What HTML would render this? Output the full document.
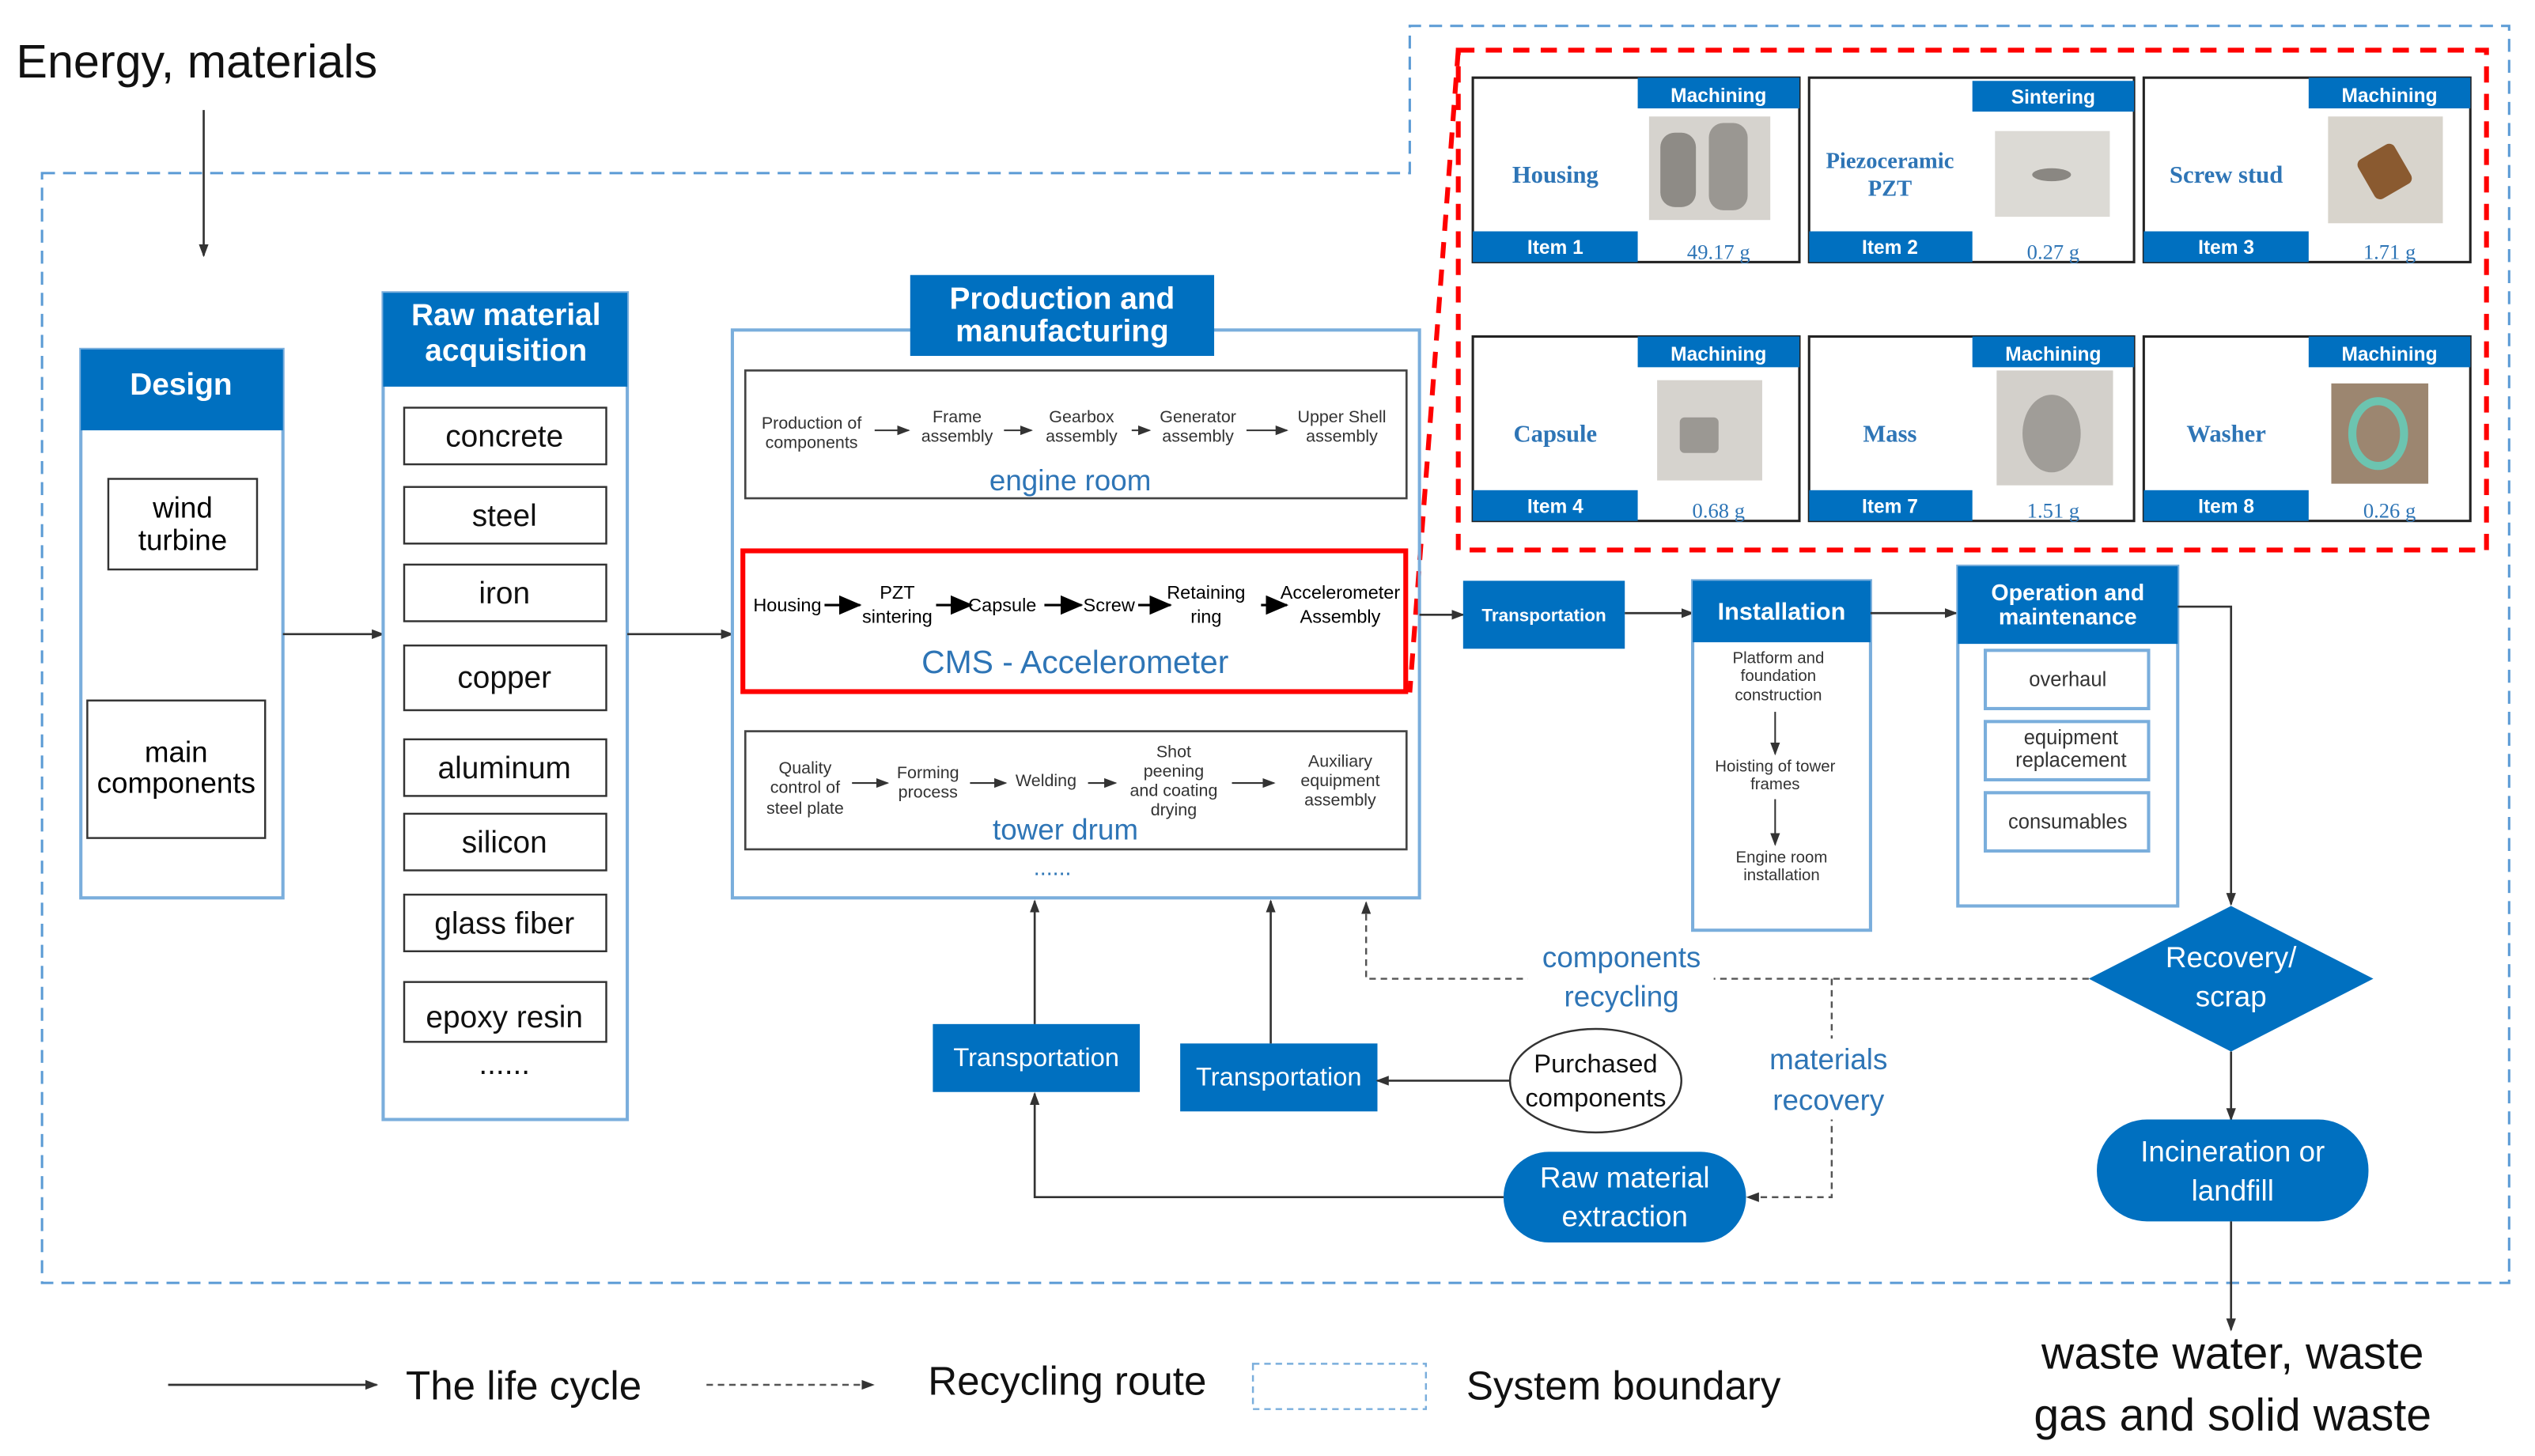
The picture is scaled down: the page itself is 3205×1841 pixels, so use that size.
<!DOCTYPE html>
<html><head><meta charset="utf-8"><style>
html,body{margin:0;padding:0;background:#fff;}
svg{display:block;}
.s{font-family:"Liberation Sans",sans-serif;}
.sf{font-family:"Liberation Serif",serif;}
</style></head><body>
<svg width="3205" height="1841" viewBox="0 0 1568 900" preserveAspectRatio="none" xmlns="http://www.w3.org/2000/svg">
<defs>
<marker id="a" markerWidth="8" markerHeight="8" refX="7" refY="4" orient="auto" markerUnits="userSpaceOnUse"><path d="M0,1 L8,4 L0,7 z" fill="#333"/></marker>
<marker id="b" markerWidth="14" markerHeight="12" refX="13" refY="6" orient="auto" markerUnits="userSpaceOnUse"><path d="M0,0 L14,6 L0,12 z" fill="#000"/></marker>
</defs>
<rect width="1568" height="900" fill="#fff"/>
<g class="s">
<text x="10" y="48" font-size="29" fill="#111">Energy, materials</text>
<line x1="126" y1="68" x2="126" y2="158" stroke="#333" stroke-width="1.3" marker-end="url(#a)"/>

<!-- system boundary -->
<path d="M26,107 L872,107 L872,16 L1552,16 L1552,793 L26,793 Z" fill="none" stroke="#5B9BD5" stroke-width="1.5" stroke-dasharray="8,5"/>
<!-- red dashed -->
<rect x="902" y="31" width="636" height="309" fill="none" stroke="#f00" stroke-width="3" stroke-dasharray="10,7"/>
<path d="M902,31 L872,428" fill="none" stroke="#f00" stroke-width="3" stroke-dasharray="10,7"/>

<!-- Design -->
<rect x="50" y="216" width="125" height="339" fill="none" stroke="#7aaedc" stroke-width="2"/>
<rect x="50" y="216" width="125" height="50" fill="#0070C0"/>
<text x="112" y="244" font-size="19" font-weight="bold" fill="#fff" text-anchor="middle">Design</text>
<rect x="67" y="296" width="92" height="56" fill="#fff" stroke="#333" stroke-width="1.2"/>
<text x="113" y="320" font-size="18" text-anchor="middle">wind</text><text x="113" y="340" font-size="18" text-anchor="middle">turbine</text>
<rect x="54" y="433" width="110" height="85" fill="#fff" stroke="#333" stroke-width="1.2"/>
<text x="109" y="471" font-size="18" text-anchor="middle">main</text><text x="109" y="490" font-size="18" text-anchor="middle">components</text>
<line x1="175" y1="392" x2="237" y2="392" stroke="#333" stroke-width="1.3" marker-end="url(#a)"/>

<!-- Raw material -->
<rect x="237" y="181" width="151" height="511" fill="none" stroke="#7aaedc" stroke-width="2"/>
<rect x="237" y="181" width="151" height="58" fill="#0070C0"/>
<text x="313" y="201" font-size="19" font-weight="bold" fill="#fff" text-anchor="middle">Raw material</text>
<text x="313" y="223" font-size="19" font-weight="bold" fill="#fff" text-anchor="middle">acquisition</text>
<g font-size="19" text-anchor="middle" fill="#111">
<rect x="250" y="252" width="125" height="35" fill="#fff" stroke="#333" stroke-width="1.2"/><text x="312" y="276">concrete</text>
<rect x="250" y="301" width="125" height="35" fill="#fff" stroke="#333" stroke-width="1.2"/><text x="312" y="325">steel</text>
<rect x="250" y="349" width="125" height="35" fill="#fff" stroke="#333" stroke-width="1.2"/><text x="312" y="373">iron</text>
<rect x="250" y="399" width="125" height="40" fill="#fff" stroke="#333" stroke-width="1.2"/><text x="312" y="425">copper</text>
<rect x="250" y="457" width="125" height="35" fill="#fff" stroke="#333" stroke-width="1.2"/><text x="312" y="481">aluminum</text>
<rect x="250" y="503" width="125" height="35" fill="#fff" stroke="#333" stroke-width="1.2"/><text x="312" y="527">silicon</text>
<rect x="250" y="553" width="125" height="35" fill="#fff" stroke="#333" stroke-width="1.2"/><text x="312" y="577">glass fiber</text>
<rect x="250" y="607" width="125" height="37" fill="#fff" stroke="#333" stroke-width="1.2"/><text x="312" y="635">epoxy resin</text>
<text x="312" y="664">......</text>
</g>
<line x1="388" y1="392" x2="453" y2="392" stroke="#333" stroke-width="1.3" marker-end="url(#a)"/>

<!-- Production -->
<rect x="453" y="204" width="425" height="351" fill="none" stroke="#7aaedc" stroke-width="2"/>
<rect x="563" y="170" width="188" height="50" fill="#0070C0"/>
<text x="657" y="191" font-size="19" font-weight="bold" fill="#fff" text-anchor="middle">Production and</text>
<text x="657" y="211" font-size="19" font-weight="bold" fill="#fff" text-anchor="middle">manufacturing</text>
<rect x="461" y="229" width="409" height="79" fill="#fff" stroke="#444" stroke-width="1.3"/>
<g font-size="10.5" fill="#333" text-anchor="middle">
<text x="502" y="265">Production of</text><text x="502" y="277">components</text>
<text x="592" y="261">Frame</text><text x="592" y="273">assembly</text>
<text x="669" y="261">Gearbox</text><text x="669" y="273">assembly</text>
<text x="741" y="261">Generator</text><text x="741" y="273">assembly</text>
<text x="830" y="261">Upper Shell</text><text x="830" y="273">assembly</text>
</g>
<g stroke="#333" stroke-width="1" marker-end="url(#a)">
<line x1="541" y1="266" x2="562" y2="266"/><line x1="621" y1="266" x2="638" y2="266"/>
<line x1="700" y1="266" x2="711" y2="266"/><line x1="771" y1="266" x2="796" y2="266"/>
</g>
<text x="662" y="303" font-size="18" fill="#2E75B6" text-anchor="middle">engine room</text>

<rect x="459.5" y="340.5" width="410" height="87" fill="#fff" stroke="#f00" stroke-width="3"/>
<g font-size="11.5" fill="#000" text-anchor="middle">
<text x="487" y="378">Housing</text>
<text x="555" y="370">PZT</text><text x="555" y="385">sintering</text>
<text x="620" y="378">Capsule</text>
<text x="686" y="378">Screw</text>
<text x="746" y="370">Retaining</text><text x="746" y="385">ring</text>
<text x="829" y="370">Accelerometer</text><text x="829" y="385">Assembly</text>
</g>
<g stroke="#000" stroke-width="1.5" marker-end="url(#b)">
<line x1="510" y1="374" x2="532" y2="374"/><line x1="579" y1="374" x2="601" y2="374"/>
<line x1="646" y1="374" x2="669" y2="374"/><line x1="704" y1="374" x2="724" y2="374"/>
<line x1="780" y1="374" x2="796" y2="374"/>
</g>
<text x="665" y="416" font-size="20" fill="#2E75B6" text-anchor="middle">CMS - Accelerometer</text>

<rect x="461" y="452" width="409" height="73" fill="#fff" stroke="#444" stroke-width="1.3"/>
<g font-size="10.5" fill="#333" text-anchor="middle">
<text x="498" y="478">Quality</text><text x="498" y="490">control of</text><text x="498" y="503">steel plate</text>
<text x="574" y="481">Forming</text><text x="574" y="493">process</text>
<text x="647" y="486">Welding</text>
<text x="726" y="468">Shot</text><text x="726" y="480">peening</text><text x="726" y="492">and coating</text><text x="726" y="504">drying</text>
<text x="829" y="474">Auxiliary</text><text x="829" y="486">equipment</text><text x="829" y="498">assembly</text>
</g>
<g stroke="#333" stroke-width="1" marker-end="url(#a)">
<line x1="527" y1="484" x2="549" y2="484"/><line x1="600" y1="484" x2="622" y2="484"/>
<line x1="673" y1="484" x2="690" y2="484"/><line x1="762" y1="484" x2="788" y2="484"/>
</g>
<text x="659" y="519" font-size="18" fill="#2E75B6" text-anchor="middle">tower drum</text>
<text x="651" y="541" font-size="14" fill="#2E75B6" text-anchor="middle">......</text>

<!-- Transportation right -->
<line x1="878" y1="380" x2="905" y2="380" stroke="#333" stroke-width="1.3" marker-end="url(#a)"/>
<rect x="905" y="359" width="100" height="42" fill="#0070C0"/>
<text x="955" y="384" font-size="11" font-weight="bold" fill="#fff" text-anchor="middle">Transportation</text>
<line x1="1005" y1="379" x2="1047" y2="379" stroke="#333" stroke-width="1.3" marker-end="url(#a)"/>
<rect x="1047" y="359" width="110" height="216" fill="none" stroke="#7aaedc" stroke-width="2"/>
<rect x="1047" y="359" width="110" height="38" fill="#0070C0"/>
<text x="1102" y="383" font-size="15" font-weight="bold" fill="#fff" text-anchor="middle">Installation</text>
<g font-size="10" fill="#333" text-anchor="middle">
<text x="1100" y="410">Platform and</text><text x="1100" y="421">foundation</text><text x="1100" y="433">construction</text>
<text x="1098" y="477">Hoisting of tower</text><text x="1098" y="488">frames</text>
<text x="1102" y="533">Engine room</text><text x="1102" y="544">installation</text>
</g>
<line x1="1098" y1="440" x2="1098" y2="466" stroke="#333" stroke-width="1" marker-end="url(#a)"/>
<line x1="1098" y1="494" x2="1098" y2="522" stroke="#333" stroke-width="1" marker-end="url(#a)"/>
<line x1="1157" y1="379" x2="1210" y2="379" stroke="#333" stroke-width="1.3" marker-end="url(#a)"/>

<!-- O&M -->
<rect x="1211" y="350" width="136" height="210" fill="none" stroke="#7aaedc" stroke-width="2"/>
<rect x="1211" y="350" width="136" height="48" fill="#0070C0"/>
<text x="1279" y="371" font-size="14" font-weight="bold" fill="#fff" text-anchor="middle">Operation and</text>
<text x="1279" y="386" font-size="14" font-weight="bold" fill="#fff" text-anchor="middle">maintenance</text>
<g fill="#fff" stroke="#7aaedc" stroke-width="2">
<rect x="1228" y="402" width="101" height="36"/><rect x="1228" y="446" width="101" height="36"/><rect x="1228" y="490" width="101" height="36"/>
</g>
<g font-size="12.5" fill="#333" text-anchor="middle">
<text x="1279" y="424">overhaul</text>
<text x="1281" y="460">equipment</text><text x="1281" y="474">replacement</text>
<text x="1279" y="512">consumables</text>
</g>
<polyline points="1347,375 1380,375 1380,559" fill="none" stroke="#333" stroke-width="1.3" marker-end="url(#a)"/>

<!-- Diamond -->
<polygon points="1380,560 1468,605 1380,650 1292,605" fill="#0070C0"/>
<text x="1380" y="598" font-size="18" fill="#fff" text-anchor="middle">Recovery/</text>
<text x="1380" y="622" font-size="18" fill="#fff" text-anchor="middle">scrap</text>
<line x1="1380" y1="650" x2="1380" y2="692" stroke="#333" stroke-width="1.3" marker-end="url(#a)"/>
<rect x="1297" y="692" width="168" height="63" rx="31" fill="#0070C0"/>
<text x="1381" y="718" font-size="18" fill="#fff" text-anchor="middle">Incineration or</text>
<text x="1381" y="742" font-size="18" fill="#fff" text-anchor="middle">landfill</text>
<line x1="1380" y1="755" x2="1380" y2="822" stroke="#333" stroke-width="1.3" marker-end="url(#a)"/>
<text x="1381" y="846" font-size="28" fill="#111" text-anchor="middle">waste water, waste</text>
<text x="1381" y="884" font-size="28" fill="#111" text-anchor="middle">gas and solid waste</text>

<!-- recycling -->
<polyline points="1292,605 845,605 845,558" fill="none" stroke="#555" stroke-width="1.2" stroke-dasharray="4,3" marker-end="url(#a)"/>
<polyline points="1133,605 1133,740 1081,740" fill="none" stroke="#555" stroke-width="1.2" stroke-dasharray="4,3" marker-end="url(#a)"/>
<rect x="945" y="578" width="115" height="50" fill="#fff"/>
<text x="1003" y="598" font-size="18" fill="#2E75B6" text-anchor="middle">components</text>
<text x="1003" y="622" font-size="18" fill="#2E75B6" text-anchor="middle">recycling</text>
<rect x="1088" y="642" width="88" height="50" fill="#fff"/>
<text x="1131" y="661" font-size="18" fill="#2E75B6" text-anchor="middle">materials</text>
<text x="1131" y="686" font-size="18" fill="#2E75B6" text-anchor="middle">recovery</text>

<rect x="930" y="712" width="150" height="56" rx="28" fill="#0070C0"/>
<text x="1005" y="734" font-size="18" fill="#fff" text-anchor="middle">Raw material</text>
<text x="1005" y="758" font-size="18" fill="#fff" text-anchor="middle">extraction</text>
<polyline points="930,740 640,740 640,676" fill="none" stroke="#333" stroke-width="1.3" marker-end="url(#a)"/>
<rect x="577" y="633" width="128" height="42" fill="#0070C0"/>
<text x="641" y="659" font-size="16" fill="#fff" text-anchor="middle">Transportation</text>
<line x1="640" y1="633" x2="640" y2="557" stroke="#333" stroke-width="1.3" marker-end="url(#a)"/>
<rect x="730" y="645" width="122" height="42" fill="#0070C0"/>
<text x="791" y="671" font-size="16" fill="#fff" text-anchor="middle">Transportation</text>
<line x1="786" y1="645" x2="786" y2="557" stroke="#333" stroke-width="1.3" marker-end="url(#a)"/>
<ellipse cx="987" cy="668" rx="53" ry="32" fill="#fff" stroke="#333" stroke-width="1.2"/>
<text x="987" y="663" font-size="16" fill="#111" text-anchor="middle">Purchased</text>
<text x="987" y="684" font-size="16" fill="#111" text-anchor="middle">components</text>
<line x1="934" y1="668" x2="852" y2="668" stroke="#333" stroke-width="1.3" marker-end="url(#a)"/>

<!-- legend -->
<line x1="104" y1="856" x2="233" y2="856" stroke="#333" stroke-width="1.3" marker-end="url(#a)"/>
<text x="251" y="865" font-size="25" fill="#111">The life cycle</text>
<line x1="437" y1="856" x2="540" y2="856" stroke="#555" stroke-width="1.2" stroke-dasharray="4,3" marker-end="url(#a)"/>
<text x="574" y="862" font-size="25" fill="#111">Recycling route</text>
<rect x="775" y="843" width="107" height="28" fill="none" stroke="#7aaedc" stroke-width="1.2" stroke-dasharray="4,3"/>
<text x="907" y="865" font-size="25" fill="#111">System boundary</text>
</g>

<!-- item cards -->
<g id="cards">
<!-- card template via explicit groups -->
<g transform="translate(911,48)">
<rect x="0" y="0" width="202" height="114" fill="#fff" stroke="#222" stroke-width="1.5"/>
<rect x="102" y="0" width="100" height="19" fill="#0070C0"/><rect x="0" y="95" width="102" height="19" fill="#0070C0"/>
<text class="s" x="152" y="15" font-size="12" font-weight="bold" fill="#fff" text-anchor="middle">Machining</text>
<text class="s" x="51" y="109" font-size="12" font-weight="bold" fill="#fff" text-anchor="middle">Item 1</text>
<text class="sf" x="152" y="112" font-size="13" fill="#2E75B6" text-anchor="middle">49.17 g</text>
<text class="sf" x="51" y="65" font-size="15" font-weight="bold" fill="#2E75B6" text-anchor="middle">Housing</text>
<rect x="109" y="24" width="75" height="64" fill="#d6d3ce"/>
<rect x="116" y="34" width="22" height="46" rx="9" fill="#8e8b86"/><rect x="146" y="28" width="24" height="54" rx="9" fill="#9a9792"/>
</g>
<g transform="translate(1119,48)">
<rect x="0" y="0" width="201" height="114" fill="#fff" stroke="#222" stroke-width="1.5"/>
<rect x="101" y="2" width="100" height="19" fill="#0070C0"/><rect x="0" y="95" width="101" height="19" fill="#0070C0"/>
<text class="s" x="151" y="16" font-size="12" font-weight="bold" fill="#fff" text-anchor="middle">Sintering</text>
<text class="s" x="50" y="109" font-size="12" font-weight="bold" fill="#fff" text-anchor="middle">Item 2</text>
<text class="sf" x="151" y="112" font-size="13" fill="#2E75B6" text-anchor="middle">0.27 g</text>
<text class="sf" x="50" y="56" font-size="14" font-weight="bold" fill="#2E75B6" text-anchor="middle">Piezoceramic</text>
<text class="sf" x="50" y="73" font-size="14" font-weight="bold" fill="#2E75B6" text-anchor="middle">PZT</text>
<rect x="115" y="33" width="71" height="53" fill="#dcdad5"/>
<ellipse cx="150" cy="60" rx="12" ry="4" fill="#8a8782"/>
</g>
<g transform="translate(1326,48)">
<rect x="0" y="0" width="202" height="114" fill="#fff" stroke="#222" stroke-width="1.5"/>
<rect x="102" y="0" width="100" height="19" fill="#0070C0"/><rect x="0" y="95" width="102" height="19" fill="#0070C0"/>
<text class="s" x="152" y="15" font-size="12" font-weight="bold" fill="#fff" text-anchor="middle">Machining</text>
<text class="s" x="51" y="109" font-size="12" font-weight="bold" fill="#fff" text-anchor="middle">Item 3</text>
<text class="sf" x="152" y="112" font-size="13" fill="#2E75B6" text-anchor="middle">1.71 g</text>
<text class="sf" x="51" y="65" font-size="15" font-weight="bold" fill="#2E75B6" text-anchor="middle">Screw stud</text>
<rect x="114" y="24" width="71" height="66" fill="#d8d4cc"/>
<rect x="136" y="44" width="26" height="28" rx="4" fill="#8a5a30" transform="rotate(-30 149 58)"/>
</g>
<g transform="translate(911,208)">
<rect x="0" y="0" width="202" height="114" fill="#fff" stroke="#222" stroke-width="1.5"/>
<rect x="102" y="0" width="100" height="19" fill="#0070C0"/><rect x="0" y="95" width="102" height="19" fill="#0070C0"/>
<text class="s" x="152" y="15" font-size="12" font-weight="bold" fill="#fff" text-anchor="middle">Machining</text>
<text class="s" x="51" y="109" font-size="12" font-weight="bold" fill="#fff" text-anchor="middle">Item 4</text>
<text class="sf" x="152" y="112" font-size="13" fill="#2E75B6" text-anchor="middle">0.68 g</text>
<text class="sf" x="51" y="65" font-size="15" font-weight="bold" fill="#2E75B6" text-anchor="middle">Capsule</text>
<rect x="114" y="27" width="65" height="62" fill="#d6d3ce"/>
<rect x="128" y="50" width="24" height="22" rx="3" fill="#9b9893"/>
</g>
<g transform="translate(1119,208)">
<rect x="0" y="0" width="201" height="114" fill="#fff" stroke="#222" stroke-width="1.5"/>
<rect x="101" y="0" width="100" height="19" fill="#0070C0"/><rect x="0" y="95" width="101" height="19" fill="#0070C0"/>
<text class="s" x="151" y="15" font-size="12" font-weight="bold" fill="#fff" text-anchor="middle">Machining</text>
<text class="s" x="50" y="109" font-size="12" font-weight="bold" fill="#fff" text-anchor="middle">Item 7</text>
<text class="sf" x="151" y="112" font-size="13" fill="#2E75B6" text-anchor="middle">1.51 g</text>
<text class="sf" x="50" y="65" font-size="15" font-weight="bold" fill="#2E75B6" text-anchor="middle">Mass</text>
<rect x="116" y="21" width="72" height="71" fill="#d3d0cb"/>
<ellipse cx="150" cy="60" rx="18" ry="24" fill="#a09d98"/>
</g>
<g transform="translate(1326,208)">
<rect x="0" y="0" width="202" height="114" fill="#fff" stroke="#222" stroke-width="1.5"/>
<rect x="102" y="0" width="100" height="19" fill="#0070C0"/><rect x="0" y="95" width="102" height="19" fill="#0070C0"/>
<text class="s" x="152" y="15" font-size="12" font-weight="bold" fill="#fff" text-anchor="middle">Machining</text>
<text class="s" x="51" y="109" font-size="12" font-weight="bold" fill="#fff" text-anchor="middle">Item 8</text>
<text class="sf" x="152" y="112" font-size="13" fill="#2E75B6" text-anchor="middle">0.26 g</text>
<text class="sf" x="51" y="65" font-size="15" font-weight="bold" fill="#2E75B6" text-anchor="middle">Washer</text>
<rect x="116" y="29" width="60" height="62" fill="#9c8670"/>
<ellipse cx="145" cy="60" rx="16" ry="20" fill="none" stroke="#6cc4b0" stroke-width="5"/>
</g>
</g>
</svg>
</body></html>
